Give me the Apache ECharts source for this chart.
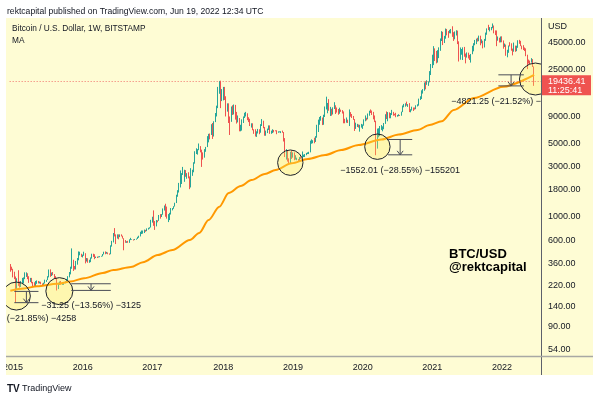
<!DOCTYPE html>
<html>
<head>
<meta charset="utf-8">
<title>BTC/USD 1W BITSTAMP</title>
<script src="https://cdn.jsdelivr.net/npm/echarts@6/dist/echarts.min.js"></script>
<style>
  html, body { margin: 0; padding: 0; background: #fff; }
  #chart { width: 600px; height: 399px; }
</style>
</head>
<body>
<div id="chart"></div>
<script>
// weekly candles from the week of 2014-12-15 up to the week of 2022-06-13
const firstOpen = 350
const closes = [
  320, 317, 274, 265, 210, 253, 226, 223, 234, 236,
  260, 275, 285, 268, 247, 254, 236, 223, 219, 240,
  241, 236, 240, 230, 225, 233, 243, 250, 270, 310,
  276, 291, 281, 265, 260, 228, 229, 240, 230, 231,
  232, 240, 255, 270, 290, 325, 370, 333, 323, 360,
  390, 435, 440, 420, 432, 450, 385, 400, 370, 376,
  405, 440, 430, 405, 414, 410, 416, 420, 422, 440,
  460, 450, 455, 445, 440, 530, 580, 680, 665, 625,
  670, 650, 665, 655, 620, 585, 570, 580, 570, 605,
  608, 608, 600, 612, 617, 640, 655, 700, 705, 705,
  740, 735, 765, 780, 790, 890, 1000, 900, 820, 920,
  915, 1010, 1000, 1050, 1150, 1270, 1230, 970, 1040, 1080,
  1180, 1190, 1250, 1350, 1550, 1750, 2050, 2100, 2550, 2600,
  2650, 2480, 2500, 2400, 1930, 2750, 2760, 3250, 4050, 4100,
  4350, 4580, 4220, 3680, 3650, 4370, 4600, 5700, 6000, 5750,
  7400, 5850, 8000, 9300, 11000, 14800, 19200, 13900, 13900, 16200,
  13600, 11500, 11700, 8200, 8100, 10400, 9600, 11400, 9500, 8200,
  8500, 6800, 7000, 8350, 8900, 9350, 9650, 8700, 8500, 7350,
  7700, 6800, 6450, 5900, 6350, 6750, 6350, 7400, 8200, 7000,
  6300, 6500, 6700, 7200, 6200, 6500, 6700, 6620, 6600, 6300,
  6400, 6400, 6470, 6350, 5580, 3950, 4150, 3550, 3200, 4000,
  3850, 4050, 3500, 3550, 3550, 3420, 3650, 3620, 3800, 3800,
  3900, 4000, 4000, 4100, 5050, 5100, 5300, 5200, 5750, 6950,
  8200, 8700, 8730, 7650, 8950, 10800, 10800, 11450, 10250, 10550,
  9500, 10800, 11350, 10300, 10150, 9600, 10400, 10350, 10000, 8050,
  7950, 8300, 8200, 9550, 9300, 8800, 8500, 6900, 7400, 7500,
  7100, 7150, 7300, 7350, 8180, 8700, 8350, 9350, 10150, 9900,
  9700, 8550, 8050, 5400, 5830, 5900, 6780, 6900, 7100, 7700,
  8900, 8750, 9680, 8720, 9450, 9670, 9350, 9300, 9000, 9070,
  9250, 9170, 9930, 11100, 11700, 11900, 11650, 11700, 10250, 10330,
  10930, 10770, 10670, 11380, 11500, 13030, 13750, 15480, 15970, 18400,
  18200, 19150, 19270, 23850, 26500, 33000, 38150, 35800, 32250, 33100,
  38900, 48600, 57500, 45200, 51200, 59000, 57600, 55800, 58800, 59800,
  56200, 49100, 56600, 58200, 46400, 34700, 35600, 35800, 39100, 35500,
  34700, 35300, 34250, 31800, 35400, 39850, 43800, 47000, 49300, 48900,
  51750, 46000, 47300, 43200, 48200, 54900, 61500, 61000, 61300, 63300,
  65000, 59000, 57200, 49400, 50100, 46700, 50800, 47300, 41850, 43100,
  36300, 37900, 42400, 42200, 38400, 37700, 38400, 37800, 41300, 46800,
  46400, 42200, 39700, 39500, 38500, 34000, 31300, 30300, 29450, 29900,
  26600, 19436.41
]
const lows = [
  300, 310, 265, 255, 152, 205, 220, 212, 215, 230,
  232, 255, 268, 255, 235, 240, 233, 215, 215, 218,
  230, 232, 232, 228, 220, 225, 232, 240, 250, 265,
  268, 273, 278, 258, 255, 199, 205, 225, 226, 225,
  225, 233, 236, 250, 265, 283, 320, 305, 315, 315,
  350, 385, 430, 415, 410, 425, 360, 375, 365, 365,
  370, 400, 415, 395, 405, 405, 410, 412, 417, 420,
  438, 440, 445, 440, 435, 440, 520, 570, 650, 550,
  620, 610, 640, 650, 620, 480, 565, 565, 565, 565,
  600, 603, 594, 600, 605, 615, 630, 650, 685, 690,
  700, 720, 730, 755, 770, 790, 880, 820, 750, 810,
  885, 915, 960, 995, 1045, 1145, 1000, 960, 890, 930,
  1050, 1150, 1190, 1250, 1350, 1550, 1700, 1900, 2050, 2500,
  2150, 2400, 2300, 2320, 1830, 1900, 2450, 2650, 3200, 3950,
  3900, 4300, 4100, 2980, 3500, 3650, 4150, 4600, 5100, 5450,
  6000, 5500, 5800, 7950, 9000, 10800, 14800, 10800, 12600, 12800,
  12900, 9000, 10000, 7800, 6000, 8000, 9300, 9400, 8400, 7700,
  7900, 6500, 6500, 6600, 7800, 8700, 9000, 8300, 7950, 7300,
  7050, 6650, 6150, 5800, 5750, 6200, 6100, 6300, 7300, 6950,
  5900, 5900, 6250, 6700, 6150, 6150, 6250, 6350, 6500, 6100,
  6300, 6350, 6250, 6300, 5200, 3700, 3500, 3350, 3150, 3200,
  3550, 3650, 3450, 3500, 3450, 3400, 3380, 3550, 3600, 3700,
  3700, 3850, 3950, 3950, 4100, 4950, 5000, 5000, 5150, 5650,
  6400, 7500, 8200, 7450, 7500, 8900, 10500, 9650, 10200, 9100,
  9150, 9400, 10600, 9500, 9800, 9350, 9550, 9950, 9600, 7750,
  7750, 7850, 7800, 7300, 8950, 8700, 8350, 6550, 6850, 7150,
  7050, 6450, 7050, 6850, 7350, 8100, 8250, 8450, 9150, 9700,
  9300, 8450, 7950, 3850, 4450, 5700, 5850, 6700, 6500, 6800,
  7650, 8500, 8100, 8650, 8650, 9300, 9150, 9200, 8850, 8950,
  9050, 9100, 9150, 9900, 11000, 11150, 11400, 11100, 9900, 9850,
  10250, 10150, 10450, 10550, 11200, 11400, 12900, 13200, 14850, 15800,
  16300, 18000, 17600, 19000, 22300, 26000, 27700, 30300, 28800, 29300,
  32300, 37900, 47000, 43000, 44950, 49400, 53200, 50400, 55700, 55500,
  51500, 47100, 48800, 53000, 43900, 30000, 31200, 34800, 31000, 33300,
  28800, 32700, 32100, 31000, 29300, 35200, 37500, 42800, 43900, 46400,
  46800, 42800, 44700, 40000, 40800, 47200, 53900, 59700, 58000, 59500,
  62200, 55600, 53500, 42000, 47300, 45500, 45600, 45700, 39700, 41300,
  34000, 32900, 36300, 41700, 38000, 34300, 37200, 37100, 37600, 40500,
  44200, 42000, 39200, 38600, 37700, 33700, 25400, 28700, 28000, 29300,
  26600, 17600
]
const highs = [
  355, 335, 320, 300, 270, 260, 310, 242, 245, 262,
  265, 296, 296, 290, 272, 262, 262, 240, 238, 245,
  248, 245, 242, 241, 232, 236, 252, 251, 272, 315,
  316, 295, 298, 285, 272, 262, 235, 242, 245, 233,
  236, 243, 256, 272, 298, 335, 500, 390, 340, 380,
  405, 468, 465, 445, 436, 465, 450, 405, 403, 390,
  410, 445, 445, 440, 418, 418, 420, 422, 425, 442,
  465, 468, 463, 458, 448, 535, 590, 700, 780, 680,
  680, 680, 680, 680, 660, 625, 600, 585, 590, 610,
  630, 612, 610, 615, 620, 645, 660, 720, 740, 740,
  755, 750, 775, 785, 795, 935, 1000, 1150, 910, 930,
  925, 1040, 1060, 1060, 1200, 1280, 1330, 1250, 1060, 1090,
  1210, 1210, 1260, 1360, 1620, 1790, 2100, 2760, 2600, 2980,
  2800, 2780, 2600, 2650, 2420, 2900, 2800, 3300, 4200, 4480,
  4400, 4980, 4700, 4350, 4100, 4400, 4620, 5850, 6150, 6200,
  7600, 7800, 8100, 9700, 11400, 17200, 19600, 19700, 16400, 17200,
  17200, 14000, 12000, 12000, 9000, 11200, 11500, 11700, 11600, 9950,
  9200, 8700, 7500, 8450, 9000, 9750, 9950, 9650, 8850, 8550,
  7750, 7750, 6800, 6800, 6500, 6850, 6800, 7600, 8500, 8200,
  7150, 6600, 6900, 7400, 7400, 6600, 6800, 6700, 6650, 6650,
  6500, 6500, 6520, 6600, 6400, 5600, 4400, 4300, 3600, 4150,
  4250, 4100, 4100, 3850, 3650, 3550, 3700, 3750, 4180, 3900,
  3950, 4050, 4100, 4150, 5300, 5450, 5350, 5650, 5850, 7500,
  8400, 8900, 9100, 8800, 9350, 11200, 13880, 12100, 13150, 11100,
  10650, 11000, 12300, 11500, 10950, 10600, 10900, 10450, 10350, 10050,
  8550, 8800, 8400, 10500, 9900, 9500, 9100, 8500, 7850, 7650,
  7550, 7500, 7650, 7550, 8450, 9200, 8750, 9600, 10200, 10500,
  10250, 9950, 9200, 8200, 6900, 6950, 7300, 7450, 7250, 7800,
  9450, 10050, 9900, 9850, 9700, 10400, 9950, 9550, 9750, 9300,
  9450, 9300, 10000, 11450, 11850, 12000, 12450, 11800, 12050, 10550,
  11150, 10950, 10950, 11500, 11750, 13300, 14000, 15950, 16400, 18950,
  19450, 19900, 19450, 24300, 28400, 34800, 42000, 40000, 37800, 38500,
  40900, 49700, 58300, 57500, 52600, 61800, 61200, 58400, 60000, 61200,
  64900, 57000, 58000, 59500, 59000, 46700, 40800, 39400, 40900, 41300,
  35700, 36600, 36400, 34700, 35400, 42300, 44800, 48100, 49500, 50500,
  52900, 52800, 48800, 47300, 49200, 56500, 62000, 67000, 63700, 63900,
  69000, 66000, 59300, 59200, 51900, 50500, 51900, 52100, 47600, 44500,
  43500, 38800, 42600, 45800, 44700, 39800, 45400, 42500, 42400, 47800,
  48200, 47200, 42500, 42900, 40800, 40000, 34800, 31300, 30600, 32300,
  31600, 26900
]

// 200 week MA (week index, value)
const maIdx = [0, 10, 20, 35, 45, 55, 69, 77, 90, 99, 110, 121, 134, 141, 148, 156, 163, 172, 180, 190, 198, 210, 222, 235, 247, 260, 277, 290, 304, 313, 322, 331, 346, 368, 391]
const maVal = [198, 208, 218, 230, 242, 260, 292, 311, 333, 370, 433, 482, 601, 701, 931, 1246, 1682, 1962, 2237, 2552, 2785, 3224, 3543, 3868, 4316, 4817, 5436, 6065, 6689, 7470, 8100, 10370, 13490, 17280, 22400]

const priceTicks = [54, 90, 140, 220, 360, 600, 1000, 1800, 3000, 5000, 9000, 25000, 45000]
const lastPrice = 19436.41
const lastTime = '11:25:41'

// drawing tools: circles and price ranges (week index / price)
const circles = [
  { i: 4.5, v: 176, r: 14 },
  { i: 36.6, v: 196, r: 13.5 },
  { i: 209, v: 3270, r: 12.7 },
  { i: 274, v: 4640, r: 12.7 },
  { i: 392, v: 20440, r: 16 }
]
const ranges = [
  { from: 3, to: 21, top: 194.9, bottom: 152.32, text: '−42.58 (−21.85%) −4258' },
  { from: 45.5, to: 75, top: 230.45, bottom: 199.2, text: '−31.25 (−13.56%) −3125' },
  { from: 282, to: 300, top: 5436.2, bottom: 3884.19, text: '−1552.01 (−28.55%) −155201' },
  { from: 364.3, to: 383.3, top: 22403.07, bottom: 17581.82, text: '−4821.25 (−21.52%) −482125' }
]

const font = 'Liberation Sans, Arial, sans-serif'
const bg = '#fefcd4'
const ink = '#131722'
const up = '#26a69a'
const down = '#ef5350'

const weekStart = Date.UTC(2014, 11, 15)
const weeks = []
for (let k = 0; k < 397; k++) {
  weeks.push(new Date(weekStart + k * 7 * 864e5).toISOString().slice(0, 10))
}
function yearOf(d) {
  return new Date(Date.parse(d) + 6 * 864e5).getUTCFullYear()
}
function isYearWeek(d) {
  return yearOf(d) !== new Date(d).getUTCFullYear() || d.slice(5) === '01-01'
}

const candles = closes.map((c, k) => [k ? closes[k - 1] : firstOpen, c, lows[k], highs[k]])

const chart = echarts.init(document.getElementById('chart'))

chart.setOption({
  animation: false,
  backgroundColor: '#fff',
  grid: { left: 6, right: 58.5, top: 18, bottom: 43 },
  xAxis: {
    type: 'category',
    data: weeks,
    boundaryGap: true,
    axisLine: { show: false },
    axisTick: { show: false },
    splitLine: { show: false },
    axisLabel: {
      interval: (index, value) => isYearWeek(value),
      formatter: (value) => String(yearOf(value)),
      color: ink,
      fontSize: 9,
      fontFamily: font,
      margin: 7
    }
  },
  yAxis: {
    type: 'log',
    logBase: 10,
    position: 'right',
    min: 47.35,
    max: 77800,
    z: 10,
    axisLine: { show: false },
    axisTick: { show: false },
    splitLine: { show: false },
    axisLabel: {
      customValues: priceTicks,
      formatter: (v) => Number(v).toFixed(2),
      color: ink,
      fontSize: 9,
      fontFamily: font,
      margin: 6.5,
      align: 'left'
    }
  },
  series: [
    {
      type: 'candlestick',
      data: candles,
      barWidth: 1.3,
      z: 2,
      itemStyle: { color: up, color0: down, borderColor: up, borderColor0: down, borderWidth: 1 },
      markLine: {
        silent: true,
        symbol: ['none', 'none'],
        label: { show: false },
        lineStyle: { color: '#f0625f', type: [1, 2], width: 1, opacity: 0.9 },
        data: [{ yAxis: lastPrice }]
      }
    },
    {
      type: 'line',
      data: maIdx.map((i, k) => [i, maVal[k]]),
      smooth: 0.3,
      smoothMonotone: 'x',
      showSymbol: false,
      z: 3,
      lineStyle: { color: '#ff9800', width: 2 }
    }
  ]
})

function xPix(i) {
  const a = chart.convertToPixel({ xAxisIndex: 0 }, 0)
  const b = chart.convertToPixel({ xAxisIndex: 0 }, 1)
  return a + (b - a) * i
}
function yPix(v) {
  return chart.convertToPixel({ yAxisIndex: 0 }, v)
}

const g = []
g.push({ type: 'rect', silent: true, z: -10, shape: { x: 6, y: 18, width: 587, height: 357 }, style: { fill: bg } })

circles.forEach((c) => {
  g.push({
    type: 'circle', silent: true, z: 4,
    shape: { cx: xPix(c.i), cy: yPix(c.v), r: c.r },
    style: { fill: 'rgba(255, 236, 90, 0.3)', stroke: '#1e222d', lineWidth: 1 }
  })
})

ranges.forEach((r) => {
  const x1 = xPix(r.from)
  const x2 = xPix(r.to)
  const cx = (x1 + x2) / 2
  const yt = yPix(r.top)
  const yb = yPix(r.bottom)
  const line = { stroke: '#4a4d57', lineWidth: 1 }
  g.push({ type: 'line', silent: true, z: 4, shape: { x1, y1: yt, x2, y2: yt }, style: line })
  g.push({ type: 'line', silent: true, z: 4, shape: { x1, y1: yb, x2, y2: yb }, style: line })
  g.push({ type: 'line', silent: true, z: 4, shape: { x1: cx, y1: yt, x2: cx, y2: yb }, style: line })
  g.push({ type: 'polyline', silent: true, z: 4, shape: { points: [[cx - 3, yb - 4], [cx, yb], [cx + 3, yb - 4]] }, style: line })
  g.push({
    type: 'text', silent: true, z: 4,
    style: { text: r.text, x: cx, y: yb + 15.5, align: 'center', verticalAlign: 'middle', fill: ink, font: '9px ' + font }
  })
})

// pane edges hide what runs past the plot
g.push({ type: 'rect', silent: true, z: 5, shape: { x: 542, y: 18, width: 51, height: 357 }, style: { fill: bg } })
g.push({ type: 'rect', silent: true, z: 5, shape: { x: 0, y: 0, width: 6, height: 399 }, style: { fill: '#fff' } })
g.push({ type: 'rect', silent: true, z: 5, shape: { x: 593, y: 0, width: 7, height: 399 }, style: { fill: '#fff' } })

g.push({ type: 'line', silent: true, z: 11, shape: { x1: 541.5, y1: 18, x2: 541.5, y2: 375 }, style: { stroke: '#5d606b', lineWidth: 1 } })
g.push({ type: 'line', silent: true, z: 11, shape: { x1: 6, y1: 356.5, x2: 593, y2: 356.5 }, style: { stroke: '#a8a8a4', lineWidth: 1.5 } })

g.push({ type: 'text', silent: true, z: 11, style: { text: 'USD', x: 548, y: 27, verticalAlign: 'middle', fill: ink, font: '9px ' + font } })

const yp = yPix(lastPrice)
g.push({ type: 'rect', silent: true, z: 12, shape: { x: 542, y: yp - 6, width: 49, height: 20 }, style: { fill: down } })
g.push({ type: 'text', silent: true, z: 13, style: { text: lastPrice.toFixed(2), x: 548, y: yp + 0.5, verticalAlign: 'middle', fill: '#fff', font: '9px ' + font } })
g.push({ type: 'text', silent: true, z: 13, style: { text: lastTime, x: 548, y: yp + 9.5, verticalAlign: 'middle', fill: '#fff', font: '9px ' + font } })

g.push({ type: 'text', silent: true, z: 11, style: { text: 'rektcapital published on TradingView.com, Jun 19, 2022 12:34 UTC', x: 7, y: 12, verticalAlign: 'middle', fill: ink, font: '8.6px ' + font } })
g.push({ type: 'text', silent: true, z: 11, style: { text: 'Bitcoin / U.S. Dollar, 1W, BITSTAMP', x: 12, y: 29, verticalAlign: 'middle', fill: ink, font: '8.3px ' + font } })
g.push({ type: 'text', silent: true, z: 11, style: { text: 'MA', x: 12, y: 41, verticalAlign: 'middle', fill: ink, font: '8.3px ' + font } })

g.push({ type: 'text', silent: true, z: 11, style: { text: 'BTC/USD\n@rektcapital', x: 449, y: 261, verticalAlign: 'middle', lineHeight: 13, fill: '#000', font: 'bold 13px ' + font } })

g.push({ type: 'text', silent: true, z: 11, style: { text: 'TV', x: 7, y: 389, verticalAlign: 'middle', fill: ink, font: '900 10px ' + font } })
g.push({ type: 'text', silent: true, z: 11, style: { text: 'TradingView', x: 22, y: 389, verticalAlign: 'middle', fill: ink, font: '9px ' + font } })

chart.setOption({ graphic: g })
</script>
</body>
</html>
